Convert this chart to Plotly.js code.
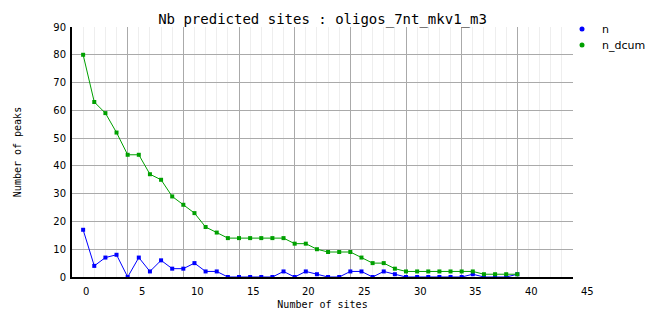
<!DOCTYPE html>
<html>
<head>
<meta charset="utf-8">
<script src="https://cdn.plot.ly/plotly-3.0.1.min.js"></script>
<style>html,body{margin:0;padding:0;background:#fff;}#chart{width:662px;height:328px;}</style>
</head>
<body>
<div id="chart"></div>
<script>
var sites = [0,1,2,3,4,5,6,7,8,9,10,11,12,13,14,15,16,17,18,19,20,21,22,23,24,25,26,27,28,29,30,31,32,33,34,35,36,37,38,39];
var n      = [17,4,7,8,0,7,2,6,3,3,5,2,2,0,0,0,0,0,2,0,2,1,0,0,2,2,0,2,1,0,0,0,0,0,0,1,0,0,0,1];
var n_dcum = [80,63,59,52,44,44,37,35,29,26,23,18,16,14,14,14,14,14,14,12,12,10,9,9,9,7,5,5,3,2,2,2,2,2,2,2,1,1,1,1];
var xTickVals = [0,5,10,15,20,25,30,35,40,45];
var xTickText = ['0','5','10','15','20','25','30','35','40','45'];
var seriesNames = ['n','n_dcum'];
var seriesColors = ['#0000ff','#00a000'];
var xRange = [-1, 44];

var mono = 'DejaVu Sans Mono, monospace';
var sans = 'DejaVu Sans, Arial, sans-serif';

var traces = [
  {x: sites, y: n, mode: 'lines+markers', name: seriesNames[0], showlegend: false,
   line: {color: seriesColors[0], width: 1}, marker: {color: seriesColors[0], symbol: 'square', size: 4}},
  {x: sites, y: n_dcum, mode: 'lines+markers', name: seriesNames[1], showlegend: false,
   line: {color: seriesColors[1], width: 1}, marker: {color: seriesColors[1], symbol: 'square', size: 4}},
  {x: [null], y: [null], mode: 'markers', name: seriesNames[0], legend: 'legend',
   marker: {color: seriesColors[0], symbol: 'circle', size: 5}},
  {x: [null], y: [null], mode: 'markers', name: seriesNames[1], legend: 'legend2',
   marker: {color: seriesColors[1], symbol: 'circle', size: 5}}
];

// tick labels placed through the x scale (as paper fraction of the axis range)
var annotations = xTickVals.map(function(v, i){
  return {x: (v - xRange[0]) / (xRange[1] - xRange[0]), y: 0, xref: 'paper', yref: 'paper',
          text: xTickText[i], showarrow: false,
          xanchor: 'center', yanchor: 'top', xshift: 3, yshift: -7,
          font: {family: sans, size: 10, color: '#000'}};
});

var legendBase = {xref: 'container', yref: 'container', xanchor: 'left', yanchor: 'middle',
                  bgcolor: 'rgba(0,0,0,0)',
                  font: {family: sans, size: 11, color: '#000'}, itemwidth: 30};

var layout = {
  width: 662, height: 328,
  margin: {l: 72, r: 89, t: 27, b: 51, pad: 0, autoexpand: false},
  paper_bgcolor: '#fff', plot_bgcolor: '#fff',
  title: {text: 'Nb predicted sites : oligos_7nt_mkv1_m3', x: 0.5, xref: 'paper',
          y: 1 - 19/328, yref: 'container', yanchor: 'middle',
          font: {family: mono, size: 14, color: '#000'}},
  xaxis: {range: xRange, tick0: -1, dtick: 5, showticklabels: false, ticks: '',
          showgrid: true, gridcolor: '#aaaaaa', gridwidth: 1,
          minor: {dtick: 1, tick0: -1, showgrid: true, gridcolor: '#eeeeee', gridwidth: 1},
          zeroline: false, showline: true, linecolor: '#000', linewidth: 2,
          title: {text: 'Number of sites', standoff: 23, font: {family: mono, size: 10, color: '#000'}}},
  yaxis: {range: [0, 90], dtick: 10, ticks: '', showgrid: true, gridcolor: '#aaaaaa', gridwidth: 1,
          zeroline: false, showline: true, linecolor: '#000', linewidth: 2,
          tickfont: {family: sans, size: 10, color: '#000'}, ticklabelstandoff: 2,
          title: {text: 'Number of peaks', standoff: 30, font: {family: mono, size: 10, color: '#000'}}},
  legend: Object.assign({x: 562/662, y: 1 - 29/328}, legendBase),
  legend2: Object.assign({x: 562/662, y: 1 - 45/328}, legendBase),
  annotations: annotations
};

Plotly.newPlot('chart', traces, layout, {displayModeBar: false, staticPlot: true});
</script>
</body>
</html>
